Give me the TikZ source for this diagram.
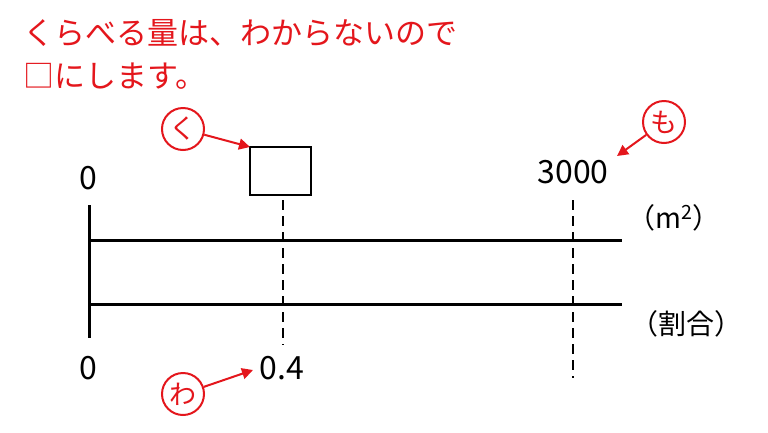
\documentclass[tikz,border=0pt]{standalone}
\usepackage{fontspec}
\setmainfont{Noto Sans CJK JP}
\usetikzlibrary{arrows.meta}
\definecolor{myred}{RGB}{228,22,28}
\tikzset{
  title/.style={anchor=base west, inner sep=0pt, text=myred, font=\fontsize{31}{36}\selectfont},
  num/.style={inner sep=0pt, font=\fontsize{32}{36}\selectfont},
  unitlbl/.style={inner sep=0pt, font=\fontsize{28}{32}\selectfont},
  axisline/.style={line width=3pt},
  guide/.style={line width=2.4pt, dash pattern=on 10pt off 6pt},
  mark circle/.style={circle, draw=myred, line width=2pt, minimum size=42pt, inner sep=0pt, text=myred, font=\fontsize{27}{30}\selectfont},
  redarrow/.style={draw=myred, line width=2pt, -{Triangle[length=11pt,width=11pt]}},
  answerbox/.style={draw, line width=2pt, minimum width=61pt, minimum height=48pt, inner sep=0pt}
}
\begin{document}
\begin{tikzpicture}[x=1pt,y=-1pt]
\useasboundingbox[fill=white] (0,0) rectangle (768,432);
% title
\node[title] (t1) at (23,44) {くらべる量は、わからないので};
\node[title] (t2) at (23,87) {□にします。};
% axes
\coordinate (vtop) at (89,205);
\coordinate (vbot) at (89,338);
\draw[axisline] (vtop) -- (vbot);
\coordinate (l1a) at (89,240);
\coordinate (l1b) at (622,240);
\coordinate (l2a) at (89,304);
\coordinate (l2b) at (622,304);
\draw[axisline] (l1a) -- (l1b);
\draw[axisline] (l2a) -- (l2b);
% dashed guides
\coordinate (d1a) at (283,200);
\coordinate (d1b) at (283,345);
\coordinate (d2a) at (573,200);
\coordinate (d2b) at (573,378);
\draw[guide] (d1a) -- (d1b);
\draw[guide] (d2a) -- (d2b);
% box
\node[answerbox] (kbox) at (280.5,171) {};
% numbers
\node[num] (z1) at (88,178) {0};
\node[num] (n3000) at (573,172) {3000};
\node[num] (z2) at (88,368) {0};
\node[num] (n04) at (282,368) {0.4};
% units
\node[unitlbl] (um) at (674,218) {（m\textsuperscript{2}）};
\node[unitlbl] (uw) at (686,324) {（割合）};
% marks
\node[mark circle] (ku) at (183,129) {く};
\node[mark circle] (mo) at (664,122) {も};
\node[mark circle] (wa) at (183,394) {わ};
\coordinate (kutip) at (250,147);
\coordinate (motip) at (617,156);
\coordinate (watip) at (253,370);
\draw[redarrow] (ku) -- (kutip);
\draw[redarrow] (mo) -- (motip);
\draw[redarrow] (wa) -- (watip);
\end{tikzpicture}
\end{document}
